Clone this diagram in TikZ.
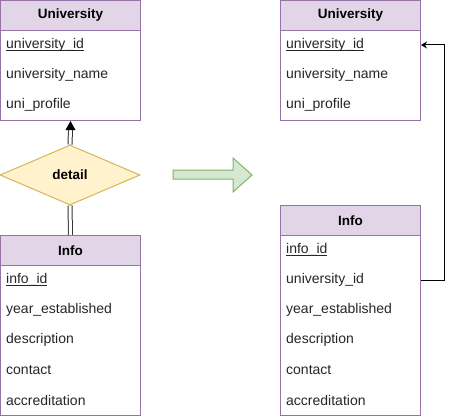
\documentclass[tikz,border=0pt]{standalone}
\usepackage{fontspec}
\setmainfont{Liberation Sans}
\usetikzlibrary{shapes.geometric,arrows.meta}
\definecolor{hdrfill}{HTML}{E1D5E7}
\definecolor{hdrline}{HTML}{9673A6}
\definecolor{dfill}{HTML}{FFF2CC}
\definecolor{dline}{HTML}{D6B656}
\definecolor{gfill}{HTML}{D5E8D4}
\definecolor{gline}{HTML}{82B366}
\newsavebox{\kfbox}
\newcommand{\keyfield}[1]{\sbox{\kfbox}{#1}\rlap{\rule[-2pt]{\wd\kfbox}{0.9pt}}\usebox{\kfbox}}
\begin{document}
\begin{tikzpicture}[x=1pt,y=-1pt,
  font=\fontsize{14}{16}\selectfont,
  hdr/.style={draw=hdrline, fill=hdrfill, line width=1pt, minimum width=140pt, minimum height=30pt, inner sep=0pt, anchor=north west, font=\fontsize{13.5}{15}\selectfont\bfseries},
  tbody/.style={draw=hdrline, fill=white, line width=1pt, minimum width=140pt, inner sep=0pt, anchor=north west},
  field/.style={anchor=west, inner sep=0pt, text=black!85},
  dbl/.style={double, double distance=3pt, line width=1pt, draw=black!80},
  fk/.style={line width=1pt, -{Stealth[length=6pt,width=7pt]}}
]
\useasboundingbox (0,0) rectangle (454,417);

% Left University
\node[tbody, minimum height=90pt] (u1b) at (0,30) {};
\node[hdr] (u1h) at (0,0) {University};
\node[field] (u1f1) at (6,45) {\keyfield{university\_id}};
\node[field] (u1f2) at (6,75) {university\_name};
\node[field] (u1f3) at (6,105) {uni\_profile};

% Diamond
\node[diamond, draw=dline, fill=dfill, line width=1pt, minimum width=140pt, minimum height=60pt, inner sep=0pt, font=\fontsize{13.5}{15}\selectfont\bfseries] (dia) at (70,175) {detail};

% Left Info
\node[tbody, minimum height=150pt] (i1b) at (0,265) {};
\node[hdr] (i1h) at (0,235) {Info};
\node[field] (i1f1) at (6,280) {\keyfield{info\_id}};
\node[field] (i1f2) at (6,310) {year\_established};
\node[field] (i1f3) at (6,340) {description};
\node[field] (i1f4) at (6,370) {contact};
\node[field] (i1f5) at (6,400) {accreditation};

% double connectors
\draw[dbl] (dia.north) -- ([yshift=-8pt]u1b.south);
\fill[black] (u1b.south) -- ++(-5,9) -- ++(10,0) -- cycle;
\draw[dbl] (dia.south) -- (i1h.north);

% green arrow
\draw[draw=gline, fill=gfill, line width=1pt] (173,170) -- (233,170) -- (233,158) -- (252,175) -- (233,192) -- (233,179) -- (173,179) -- cycle;

% Right University
\node[tbody, minimum height=90pt] (u2b) at (280,30) {};
\node[hdr] (u2h) at (280,0) {University};
\node[field] (u2f1) at (286,45) {\keyfield{university\_id}};
\node[field] (u2f2) at (286,75) {university\_name};
\node[field] (u2f3) at (286,105) {uni\_profile};

% Right Info
\node[tbody, minimum height=180pt] (i2b) at (280,235) {};
\node[hdr] (i2h) at (280,205) {Info};
\node[field] (i2f1) at (286,250) {\keyfield{info\_id}};
\node[field] (i2f2) at (286,280) {university\_id};
\node[field] (i2f3) at (286,310) {year\_established};
\node[field] (i2f4) at (286,340) {description};
\node[field] (i2f5) at (286,370) {contact};
\node[field] (i2f6) at (286,400) {accreditation};

\draw[fk] (i2f2 -| i2b.east) -- ++(23,0) |- (u2f1 -| u2b.east);
\end{tikzpicture}
\end{document}
